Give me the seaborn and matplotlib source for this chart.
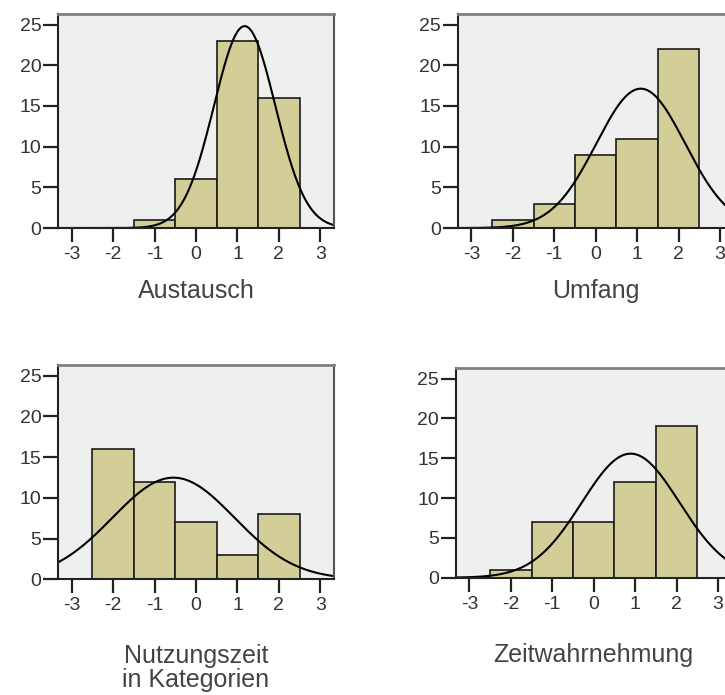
import matplotlib

matplotlib.use("Agg")
import matplotlib.pyplot as plt
import numpy as np
import seaborn as sns

# bin centres (standardised scores) and counts per panel
bin_centers = [-2, -1, 0, 1, 2]
austausch = [0, 1, 6, 23, 16]
umfang = [1, 3, 9, 11, 22]
nutzungszeit = [16, 12, 7, 3, 8]
zeitwahrnehmung = [1, 7, 7, 12, 19]

panel_labels = ["Austausch", "Umfang", "Nutzungszeit\nin Kategorien", "Zeitwahrnehmung"]
x_ticks = [-3, -2, -1, 0, 1, 2, 3]
y_ticks = [0, 5, 10, 15, 20, 25]

sns.set_style("white")
plt.rcParams["font.family"] = ["Liberation Sans", "DejaVu Sans"]

BAR = "#d3ce97"
BG = "#efefef"

fig = plt.figure(figsize=(7.25, 6.95), dpi=100)

# axes rectangles in figure fractions (right column runs past the figure edge)
rects = [
    [0.0800, 0.6719, 0.3807, 0.3079],
    [0.6313, 0.6719, 0.3807, 0.3079],
    [0.0800, 0.1665, 0.3807, 0.3083],
    [0.6286, 0.1688, 0.3807, 0.3013],
]
label_y = [-0.238, -0.238, -0.30, -0.31]

for counts, label, rect, ly in zip(
    [austausch, umfang, nutzungszeit, zeitwahrnehmung], panel_labels, rects, label_y
):
    ax = fig.add_axes(rect)
    ax.set_facecolor(BG)

    vals = [v for v, c in zip(bin_centers, counts) if c > 0]
    cnts = [c for c in counts if c > 0]
    sns.histplot(
        x=vals,
        weights=cnts,
        discrete=True,
        color=BAR,
        alpha=1,
        edgecolor="#1a1a1a",
        linewidth=1.2,
        ax=ax,
    )

    # normal curve fitted to the histogram (as SPSS does)
    obs = np.repeat(bin_centers, counts)
    mu, sd = obs.mean(), obs.std(ddof=1)
    xs = np.linspace(-3.4, 3.4, 400)
    ys = len(obs) * np.exp(-0.5 * ((xs - mu) / sd) ** 2) / (sd * np.sqrt(2 * np.pi))
    sns.lineplot(x=xs, y=ys, color="black", linewidth=1.5, ax=ax)

    ax.set_xlim(-3.33, 3.33)
    ax.set_ylim(0, 26.3)
    ax.set_xticks(x_ticks)
    ax.set_yticks(y_ticks)
    ax.set_xticklabels([str(t) for t in x_ticks])
    ax.set_ylabel("")
    ax.tick_params(axis="x", bottom=True, direction="out", length=10, width=1.6,
                   pad=3, labelsize=14, color="#222222", labelcolor="#333333")
    ax.tick_params(axis="y", left=True, direction="out", length=11, width=1.6,
                   pad=1, labelsize=14, color="#222222", labelcolor="#333333")

    for side in ["left", "bottom"]:
        ax.spines[side].set_color("#222222")
        ax.spines[side].set_linewidth(1.5)
    ax.spines["top"].set_color("#808080")
    ax.spines["top"].set_linewidth(2)
    ax.spines["right"].set_color("#555555")
    ax.spines["right"].set_linewidth(1.5)

    ax.set_xlabel(label, fontsize=18, color="#444444", linespacing=1.0)
    ax.xaxis.set_label_coords(0.5, ly)
    ax.grid(False)

fig.savefig("out.png", dpi=100)
